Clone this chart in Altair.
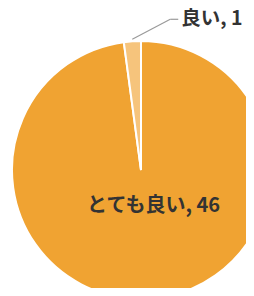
import altair as alt
import pandas as pd

labels = ["とても良い", "良い"]
values = [46, 1]
order = [0, 1]
colors = ["#F0A332", "#F6C47C"]

df = pd.DataFrame({"label": labels, "value": values, "idx": order})

CX, CY, R = 133, 162, 129
FONT = "Noto Sans CJK JP"

base = alt.Chart(df).transform_calculate(
    txt="datum.label + ', ' + datum.value"
)

arc = base.mark_arc(radius=R, stroke="white", strokeWidth=2).encode(
    theta=alt.Theta("value:Q", stack=True),
    order=alt.Order("idx:Q"),
    color=alt.Color("label:N", scale=alt.Scale(domain=labels, range=colors), legend=None),
    x=alt.value(CX),
    y=alt.value(CY),
)

inner = base.transform_calculate(
    lab="datum.value > 10 ? datum.txt : ''"
).mark_text(radius=38, font=FONT, fontSize=20, fontWeight="bold", color="#333333", dx=10, dy=-2).encode(
    theta=alt.Theta("value:Q", stack=True),
    order=alt.Order("idx:Q"),
    text="lab:N",
    x=alt.value(CX),
    y=alt.value(CY),
)

geo = base.transform_joinaggregate(total="sum(value)").transform_window(
    cum="sum(value)", sort=[alt.SortField("idx")]
).transform_calculate(
    a="2*PI*(datum.cum - datum.value/2)/datum.total"
).transform_calculate(
    x1=f"{CX} + {R + 2}*sin(datum.a)",
    y1=f"{CY} - {R + 2}*cos(datum.a)",
).transform_calculate(
    x2="datum.x1 + 38",
    y2="datum.y1 - 20",
).transform_calculate(
    x3="datum.x2 + 8",
    xt="datum.x2 + 11",
).transform_filter("datum.value < 10")

rule1 = geo.mark_rule(color="#9a9a9a", strokeWidth=1.2).encode(
    x=alt.X("x1:Q", scale=None), y=alt.Y("y1:Q", scale=None),
    x2="x2:Q", y2="y2:Q",
)
rule2 = geo.mark_rule(color="#9a9a9a", strokeWidth=1.2).encode(
    x=alt.X("x2:Q", scale=None), y=alt.Y("y2:Q", scale=None),
    x2="x3:Q", y2="y2:Q",
)
outer = geo.mark_text(font=FONT, fontSize=19.5, fontWeight="bold", color="#333333",
                      align="left", baseline="middle").encode(
    x=alt.X("xt:Q", scale=None), y=alt.Y("y2:Q", scale=None), text="txt:N",
)

chart = alt.layer(arc, inner, rule1, rule2, outer).properties(
    width=238, height=280, autosize="none", padding=0
).configure_view(stroke=None)

chart.save("out.html", embed_options={"renderer": "svg", "actions": False})
